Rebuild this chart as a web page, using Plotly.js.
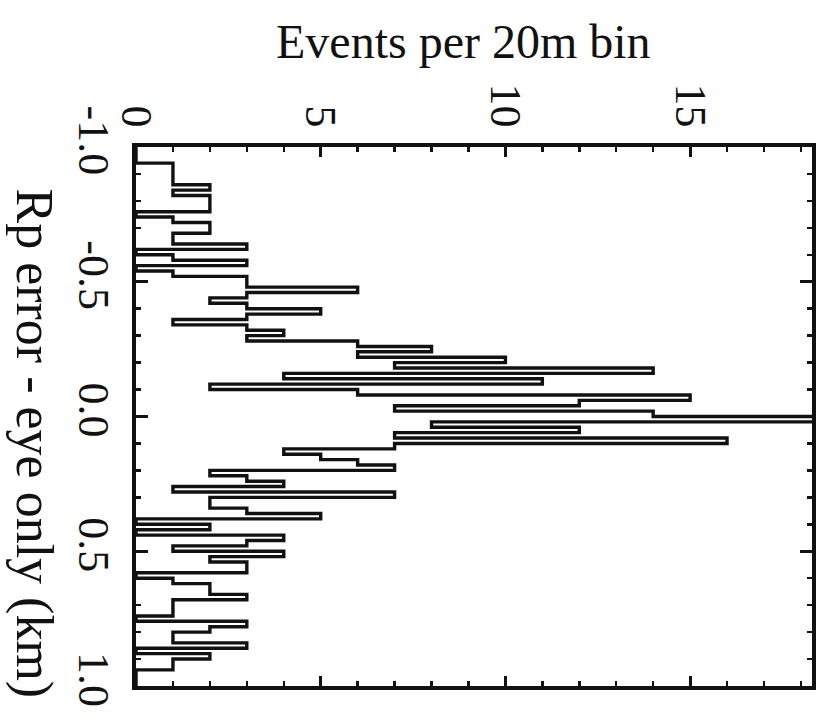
<!DOCTYPE html>
<html>
<head>
<meta charset="utf-8">
<script src="https://cdn.plot.ly/plotly-3.0.1.min.js"></script>
<style>
  html, body { margin: 0; padding: 0; background: #fff; }
  #chart { width: 821px; height: 728px; }
</style>
</head>
<body>
<div id="chart"></div>
<script>
// Histogram of Rp error (eye only), 20 m bins from -1.0 to 1.0 km
const binStart = -1.0;
const binWidth = 0.02;
const counts = [
  0,0,0,1,1,1,1,2,1,2,
  2,2,0,1,2,2,1,1,3,0,
  1,3,0,1,3,3,6,3,2,3,
  5,3,1,3,4,3,6,8,6,10,
  7,14,4,11,2,6,15,12,7,14,
  19,8,12,7,16,7,4,5,6,7,
  2,3,4,1,7,2,2,3,5,0,
  2,0,4,3,1,4,2,3,3,0,
  1,2,2,3,1,1,1,0,3,2,
  1,1,3,0,2,1,1,0,0,0
];
const countTicks = [0, 5, 10, 15];
const countTickText = ["0", "5", "10", "15"];
const errTicks = [-1.0, -0.5, 0.0, 0.5, 1.0];
const errTickText = ["-1.0", "-0.5", "0.0", "0.5", "1.0"];
const countTitle = "Events per 20m bin";
const errTitle = "Rp error - eye only (km)";

// step outline: vertical segment at each bin's count, spanning the bin
const xs = [], ys = [];
for (let i = 0; i < counts.length; i++) {
  xs.push(counts[i]);
  ys.push(binStart + i * binWidth);
}
xs.push(counts[counts.length - 1]);
ys.push(binStart + counts.length * binWidth);

const serif = "Liberation Serif, Times New Roman, serif";

const trace = {
  type: "scatter",
  mode: "lines",
  x: xs,
  y: ys,
  line: { shape: "vh", color: "#111", width: 3.4 },
  hoverinfo: "skip"
};

const layout = {
  width: 821, height: 728,
  margin: { l: 136, r: 9, t: 147, b: 42 },
  paper_bgcolor: "#fff",
  plot_bgcolor: "#fff",
  showlegend: false,
  font: { family: serif, color: "#111" },
  xaxis: {
    side: "top",
    range: [0, 18.3],
    tickmode: "array",
    tickvals: countTicks,
    ticktext: countTickText,
    tickangle: 90,
    ticks: "inside",
    ticklen: 10,
    tickwidth: 3,
    tickcolor: "#111",
    minor: { dtick: 1, ticks: "inside", ticklen: 5, tickwidth: 2.5, tickcolor: "#111", showgrid: false },
    showline: true,
    linewidth: 4,
    linecolor: "#111",
    mirror: "ticks",
    showgrid: false,
    zeroline: false,
    tickfont: { family: serif, size: 44, color: "#111" }
  },
  yaxis: {
    range: [1, -1],
    tickmode: "array",
    tickvals: errTicks,
    ticktext: errTickText,
    tickangle: 90,
    ticks: "inside",
    ticklen: 12,
    tickwidth: 3,
    tickcolor: "#111",
    minor: { dtick: 0.1, ticks: "inside", ticklen: 5, tickwidth: 2.5, tickcolor: "#111", showgrid: false },
    showline: true,
    linewidth: 4,
    linecolor: "#111",
    mirror: "ticks",
    showgrid: false,
    zeroline: false,
    tickfont: { family: serif, size: 44, color: "#111" }
  },
  annotations: [
    {
      text: countTitle,
      xref: "paper", yref: "paper",
      x: 0.485, y: 1.0,
      yshift: 106,
      xanchor: "center", yanchor: "middle",
      showarrow: false,
      font: { family: serif, size: 48, color: "#111" }
    },
    {
      text: errTitle,
      xref: "paper", yref: "paper",
      x: 0, y: 0.45,
      xshift: -102,
      xanchor: "center", yanchor: "middle",
      textangle: 90,
      showarrow: false,
      font: { family: serif, size: 52, color: "#111" }
    }
  ]
};

Plotly.newPlot("chart", [trace], layout, { staticPlot: true, displayModeBar: false });
</script>
</body>
</html>
